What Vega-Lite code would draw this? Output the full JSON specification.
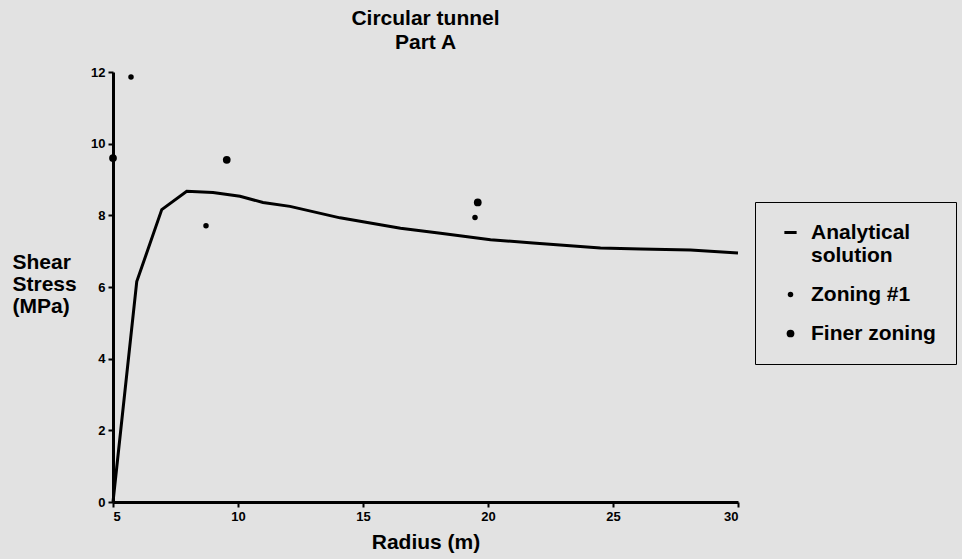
{
  "$schema": "https://vega.github.io/schema/vega-lite/v6.json",
  "width": 625,
  "height": 430,
  "autosize": {"type": "none"},
  "padding": {"left": 113, "top": 72, "right": 224, "bottom": 57},
  "background": "#e2e2e2",
  "title": {
    "text": ["Circular tunnel", "Part A"],
    "font": "Liberation Sans",
    "fontSize": 21,
    "fontWeight": "bold",
    "color": "black",
    "anchor": "middle",
    "lineHeight": 24,
    "offset": 13
  },
  "config": {
    "view": {"stroke": null},
    "axis": {
      "domainColor": "black",
      "domainWidth": 3,
      "tickColor": "black",
      "tickWidth": 2,
      "tickSize": 5,
      "grid": false,
      "labelFont": "Liberation Sans",
      "labelFontWeight": "bold",
      "labelFontSize": 13,
      "labelColor": "black",
      "labelPadding": 3,
      "titleFont": "Liberation Sans",
      "titleFontWeight": "bold",
      "titleFontSize": 21,
      "titleColor": "black"
    }
  },
  "datasets": {
    "analytical": [
      {"r": 5.0, "tau": 0.0},
      {"r": 5.95, "tau": 6.15},
      {"r": 6.95, "tau": 8.16},
      {"r": 7.95, "tau": 8.67},
      {"r": 9.0, "tau": 8.64},
      {"r": 10.08, "tau": 8.53},
      {"r": 11.0, "tau": 8.36},
      {"r": 12.08, "tau": 8.25},
      {"r": 14.08, "tau": 7.93},
      {"r": 15.0, "tau": 7.82},
      {"r": 16.5, "tau": 7.64},
      {"r": 18.1, "tau": 7.5},
      {"r": 20.1, "tau": 7.32},
      {"r": 21.8, "tau": 7.23},
      {"r": 24.5, "tau": 7.09},
      {"r": 26.1, "tau": 7.06},
      {"r": 28.1, "tau": 7.03},
      {"r": 30.0, "tau": 6.95}
    ],
    "zoning": [
      {"r": 5.72, "tau": 11.86, "series": "Zoning #1"},
      {"r": 8.72, "tau": 7.71, "series": "Zoning #1"},
      {"r": 19.48, "tau": 7.94, "series": "Zoning #1"},
      {"r": 5.0, "tau": 9.6, "series": "Finer zoning"},
      {"r": 9.55, "tau": 9.55, "series": "Finer zoning"},
      {"r": 19.59, "tau": 8.36, "series": "Finer zoning"}
    ]
  },
  "layer": [
    {
      "data": {"name": "analytical"},
      "mark": {"type": "line", "color": "black", "strokeWidth": 3},
      "encoding": {
        "x": {
          "field": "r",
          "type": "quantitative",
          "scale": {"domain": [5, 30], "nice": false, "zero": false},
          "axis": {
            "values": [5, 10, 15, 20, 25, 30],
            "title": "Radius (m)",
            "titleY": 40,
            "titleBaseline": "middle"
          }
        },
        "y": {
          "field": "tau",
          "type": "quantitative",
          "scale": {"domain": [0, 12], "nice": false},
          "axis": {
            "values": [0, 2, 4, 6, 8, 10, 12],
            "title": ["Shear", "Stress", "(MPa)"],
            "titleAngle": 0,
            "titleAlign": "left",
            "titleBaseline": "middle",
            "titleX": -101,
            "titleY": 190,
            "titleLineHeight": 22
          }
        }
      }
    },
    {
      "data": {"name": "zoning"},
      "mark": {"type": "point", "filled": true, "color": "black", "opacity": 1},
      "encoding": {
        "x": {"field": "r", "type": "quantitative"},
        "y": {"field": "tau", "type": "quantitative"},
        "shape": {
          "field": "series",
          "type": "nominal",
          "scale": {
            "domain": ["Analytical solution", "Zoning #1", "Finer zoning"],
            "range": ["M-1,-0.25H1V0.25H-1Z", "circle", "circle"]
          },
          "legend": {
            "title": null,
            "orient": "none",
            "legendX": 642,
            "legendY": 130,
            "strokeColor": "black",
            "padding": 20,
            "symbolOffset": 5,
            "labelOffset": 10,
            "rowPadding": 17,
            "symbolFillColor": "black",
            "labelFont": "Liberation Sans",
            "labelFontWeight": "bold",
            "labelFontSize": 21,
            "labelColor": "black",
            "labelLimit": 300,
            "labelExpr": "datum.label == 'Analytical solution' ? ['Analytical', 'solution'] : datum.label",
            "encode": {"legend": {"update": {"strokeWidth": {"value": 2}}}}
          }
        },
        "size": {
          "field": "series",
          "type": "nominal",
          "scale": {
            "type": "ordinal",
            "domain": ["Analytical solution", "Zoning #1", "Finer zoning"],
            "range": [150, 30, 60]
          },
          "legend": {
            "title": null,
            "orient": "none",
            "legendX": 642,
            "legendY": 130,
            "strokeColor": "black",
            "padding": 20,
            "symbolOffset": 5,
            "labelOffset": 10,
            "rowPadding": 17,
            "symbolFillColor": "black",
            "labelFont": "Liberation Sans",
            "labelFontWeight": "bold",
            "labelFontSize": 21,
            "labelColor": "black",
            "labelLimit": 300,
            "labelExpr": "datum.label == 'Analytical solution' ? ['Analytical', 'solution'] : datum.label",
            "encode": {"legend": {"update": {"strokeWidth": {"value": 2}}}}
          }
        }
      }
    }
  ]
}
